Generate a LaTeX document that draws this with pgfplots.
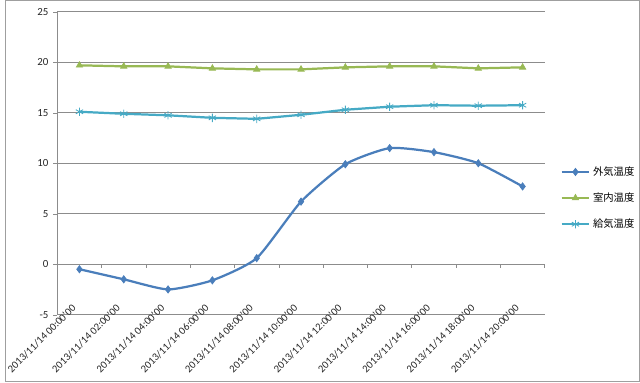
\documentclass[border=0pt]{standalone}
\usepackage{pgfplots}
\pgfplotsset{compat=1.18}
\usepackage{fontspec}
\setmainfont{Carlito}
\newfontfamily\cjk{Noto Sans CJK JP}
\definecolor{cblue}{HTML}{4A7EBB}
\definecolor{cgreen}{HTML}{98B954}
\definecolor{ccyan}{HTML}{46AAC5}
\definecolor{gridc}{HTML}{8C8C8C}
\begin{document}
\begin{tikzpicture}
\draw[gray!75, line width=0.6pt] (0.0125cm,0.0125cm) rectangle (15.9875cm,9.6125cm);
\begin{axis}[
  at={(1.325cm,1.7cm)}, anchor=south west,
  scale only axis, width=12.275cm, height=7.625cm,
  xmin=-0.5, xmax=10.5, ymin=-5, ymax=25,
  axis x line*=bottom, axis y line*=left,
  axis line style={-, draw=gridc},
  x axis line style={draw=none},
  ytick={-5,0,5,10,15,20,25},
  ymajorgrids, major grid style={draw=gridc, line width=0.5pt},
  tick align=outside, major tick length=0.1cm,
  ytick style={draw=gridc},
  /pgf/number format/assume math mode=true,
  xtick={0,...,10}, xtick style={draw=none},
  xticklabels={2013/11/14 00:00'00,2013/11/14 02:00'00,2013/11/14 04:00'00,2013/11/14 06:00'00,2013/11/14 08:00'00,2013/11/14 10:00'00,2013/11/14 12:00'00,2013/11/14 14:00'00,2013/11/14 16:00'00,2013/11/14 18:00'00,2013/11/14 20:00'00},
  xticklabel style={rotate=45, anchor=east, font=\fontsize{7.6}{9}\selectfont, color=black!85, xshift=7pt, yshift=9pt},
  yticklabel style={font=\fontsize{7.8}{9}\selectfont, color=black!85},
  legend style={draw=none, at={(1.032,0.385)}, anchor=west, font=\cjk\fontsize{7.4}{9}\selectfont, row sep=7pt, inner sep=0pt},
  legend cell align=left,
  legend image code/.code={\draw[line width=1.3pt, mark repeat=2,mark phase=2] plot coordinates {(0cm,0cm) (0.35cm,0cm) (0.7cm,0cm)};},
  clip=false,
]
\draw[gridc, line width=0.5pt] (axis cs:-0.5,0) -- (axis cs:10.5,0);
\pgfplotsinvokeforeach{-0.5,0.5,1.5,2.5,3.5,4.5,5.5,6.5,7.5,8.5,9.5,10.5}{\draw[gridc, line width=0.5pt] (axis cs:#1,0) -- ([yshift=-0.1cm]axis cs:#1,0);}
\addplot[cblue, line width=1.6pt, smooth, tension=0.35, mark=diamond*, mark size=2.6pt, mark options={solid, line width=0.5pt}] coordinates {
(0,-0.5) (1,-1.5) (2,-2.5) (3,-1.6) (4,0.6) (5,6.2) (6,9.9) (7,11.5) (8,11.1) (9,10.0) (10,7.7)};
\addlegendentry{外気温度}
\addplot[cgreen, line width=1.6pt, mark=triangle*, mark size=2.6pt, mark options={solid, line width=0.5pt}] coordinates {
(0,19.7) (1,19.6) (2,19.6) (3,19.4) (4,19.3) (5,19.3) (6,19.5) (7,19.6) (8,19.6) (9,19.4) (10,19.5)};
\addlegendentry{室内温度}
\addplot[ccyan, line width=1.6pt, mark=asterisk, mark size=3pt, mark options={solid, line width=0.6pt}] coordinates {
(0,15.1) (1,14.9) (2,14.75) (3,14.5) (4,14.4) (5,14.8) (6,15.3) (7,15.6) (8,15.75) (9,15.7) (10,15.75)};
\addlegendentry{給気温度}
\end{axis}
\end{tikzpicture}
\end{document}
